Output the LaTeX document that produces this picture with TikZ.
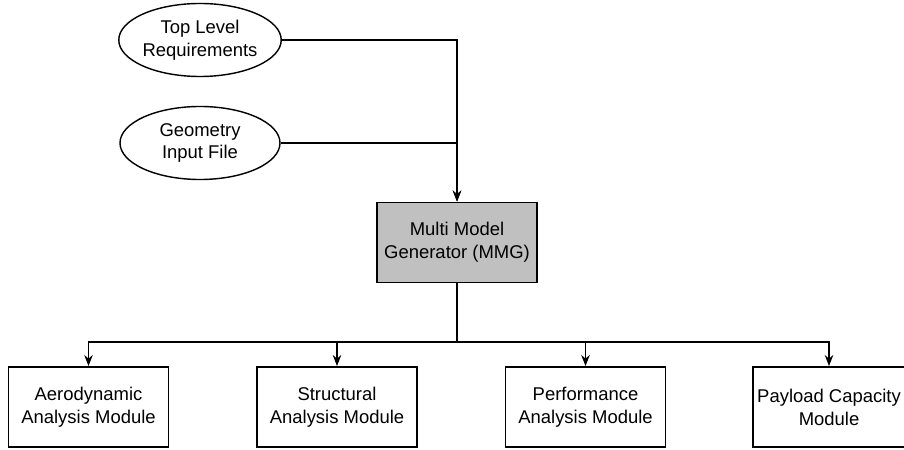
\documentclass[tikz,border=0pt]{standalone}
\usepackage{fontspec}
\setmainfont{Liberation Sans}
\usetikzlibrary{shapes.geometric,arrows.meta}

\begin{document}
\begin{tikzpicture}[
    font=\fontsize{10.5}{13}\selectfont,
    input/.style={draw, line width=0.8pt, ellipse, align=center, inner sep=0pt,
                  minimum width=3.2cm, minimum height=1.46cm},
    module/.style={draw, line width=1.1pt, rectangle, align=center, inner sep=0pt,
                   minimum width=3.2cm, minimum height=1.6cm},
    link/.style={line width=0.6pt, -{Stealth[length=2.2mm, width=1.7mm]}}
  ]
  \useasboundingbox (0, 0) rectangle (18.08, 8.98);

  \node [input] (toplevel) at (4, 8.18) {Top Level\\Requirements};
  \node [input] (geometry) at (4, 6.12) {Geometry\\Input File};

  \node [module, fill={rgb,255:red,192;green,192;blue,192}] (mmg) at (9.14, 4.13) {Multi Model\\Generator (MMG)};

  \node [module] (aero) at (1.77, 0.84) {Aerodynamic\\Analysis Module};
  \node [module] (struct) at (6.74, 0.84) {Structural\\Analysis Module};
  \node [module] (perf) at (11.71, 0.84) {Performance\\Analysis Module};
  \node [module, minimum width=3.04cm] (payload) at (16.58, 0.84) {Payload Capacity\\Module};

  \draw [link] (toplevel.east) -| (mmg.north);
  \draw [link] (geometry.east) -| (mmg.north);

  \coordinate (bus) at (9.14, 2.14);
  \draw [line width=0.6pt] (mmg.south) -- (bus);
  \draw [link] (bus) -| (aero.north);
  \draw [link] (bus) -| (struct.north);
  \draw [link] (bus) -| (perf.north);
  \draw [link] (bus) -| (payload.north);
\end{tikzpicture}
\end{document}
